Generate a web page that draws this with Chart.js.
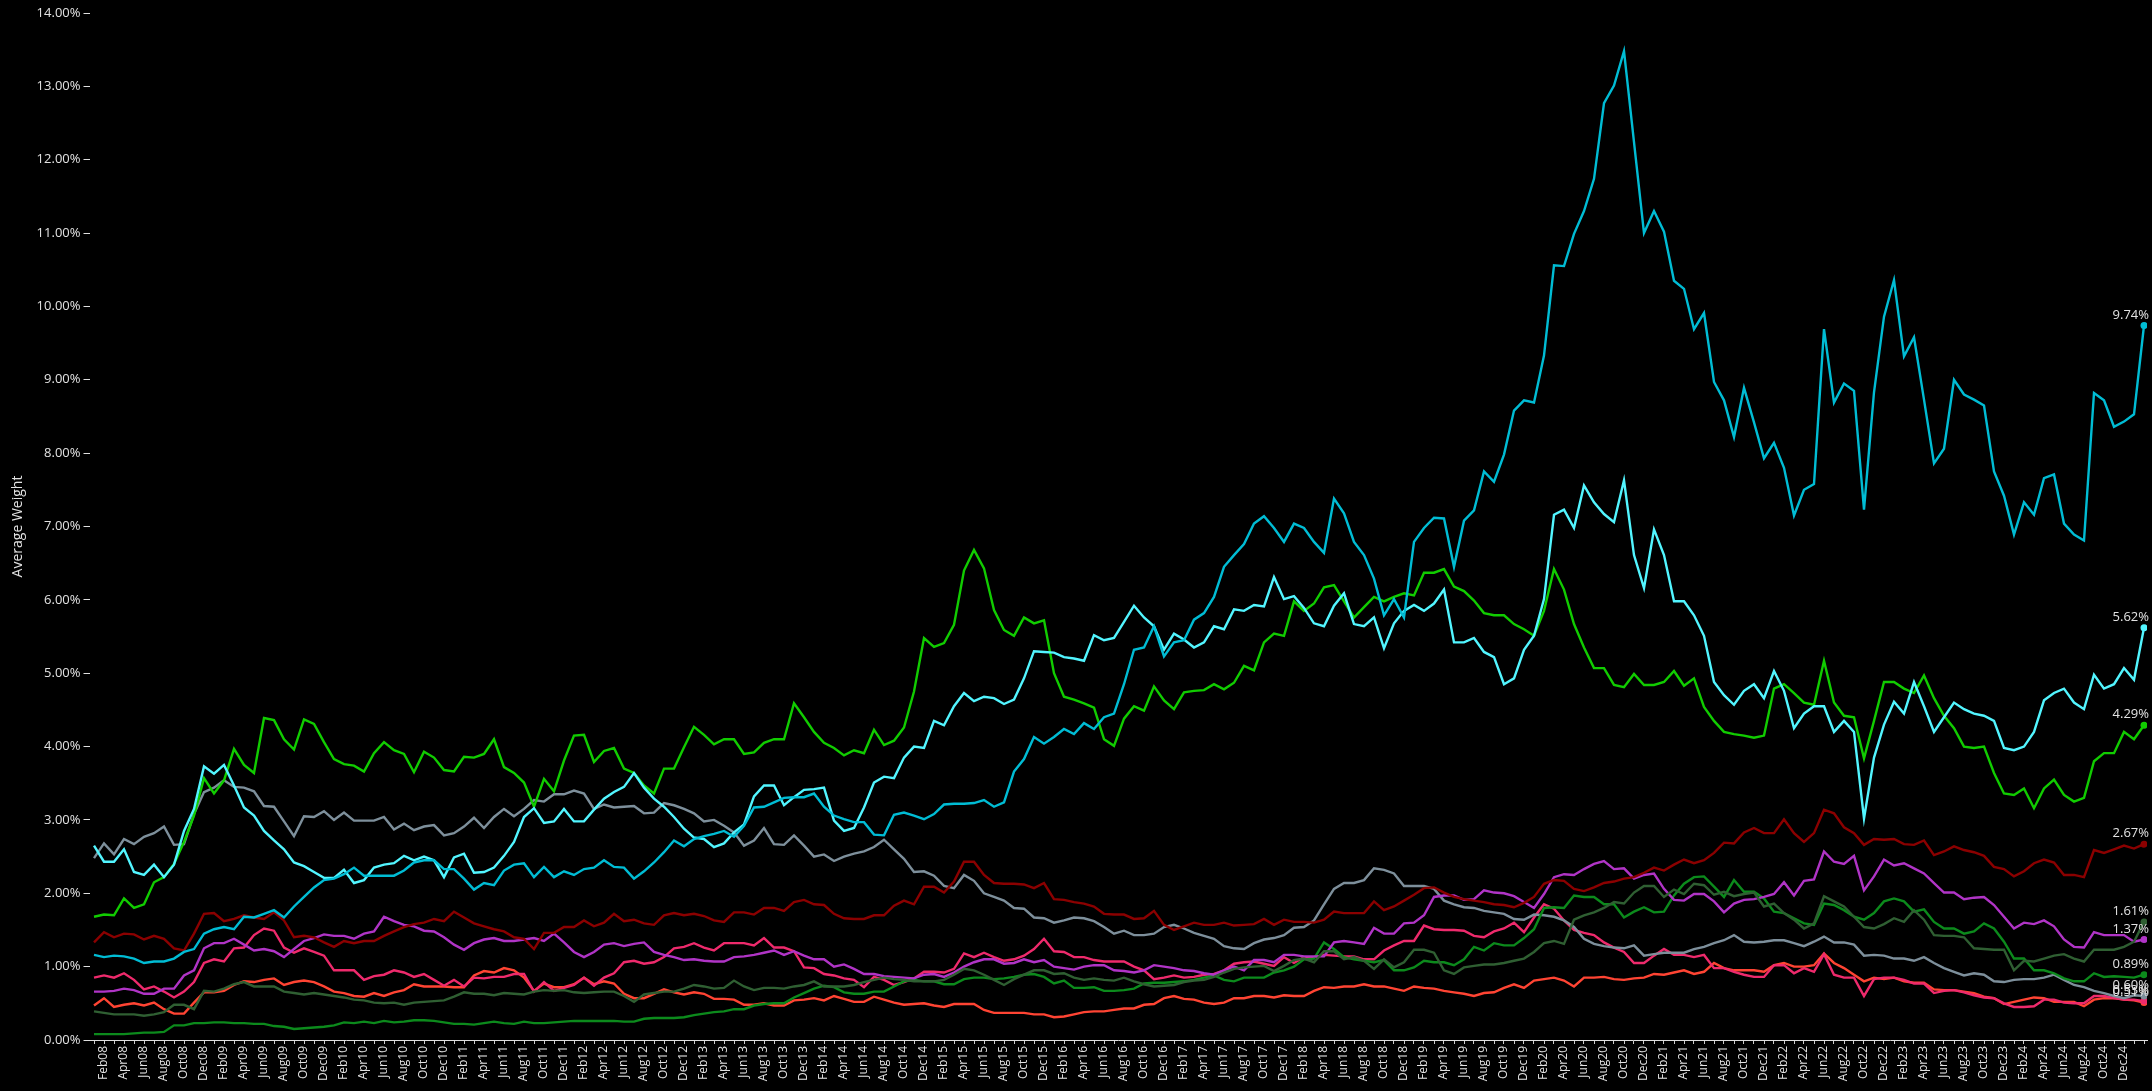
<!DOCTYPE html>
<html>
<head>
<meta charset="utf-8">
<title>Average Weight</title>
<script src="https://cdn.jsdelivr.net/npm/chart.js@4.4.1/dist/chart.umd.min.js"></script>
<style>
  html, body { margin: 0; padding: 0; background: #000; }
  #wrap { width: 2152px; height: 1091px; position: relative; }
</style>
</head>
<body>
<div id="wrap"><canvas id="chart"></canvas></div>
<script>
// month labels, Jan08 .. Feb25
const monthNames = ['Jan', 'Feb', 'Mar', 'Apr', 'May', 'Jun', 'Jul', 'Aug', 'Sep', 'Oct', 'Nov', 'Dec'];
const months = [];
for (let k = 0; k < 206; k++) {
  const yr = 8 + Math.floor(k / 12);
  months.push(monthNames[k % 12] + String(yr).padStart(2, '0'));
}

const yTicks = [0, 1, 2, 3, 4, 5, 6, 7, 8, 9, 10, 11, 12, 13, 14];

const darkCyan = [1.16,1.13,1.15,1.14,1.11,1.05,1.07,1.07,1.11,1.20,1.24,1.45,1.51,1.54,1.51,1.68,1.67,1.72,1.77,1.67,
  1.82,1.95,2.08,2.18,2.20,2.26,2.35,2.24,2.24,2.24,2.24,2.31,2.42,2.45,2.45,2.33,2.33,2.20,2.05,2.14,
  2.11,2.31,2.39,2.41,2.22,2.36,2.22,2.30,2.25,2.33,2.35,2.45,2.36,
  2.35,2.20,2.30,2.42,2.56,2.72,2.64,2.74,2.78,2.81,2.85,2.77,2.92,3.17,3.18,3.24,3.30,3.31,3.31,3.36,
  3.18,3.06,3.01,2.97,2.97,2.80,2.79,3.07,3.10,3.06,3.01,3.08,3.21,3.22,3.22,3.23,3.27,3.18,3.24,3.66,
  3.83,4.13,4.04,4.13,4.24,4.17,4.32,4.24,4.40,4.45,4.85,5.32,5.35,
  5.64,5.23,5.42,5.45,5.73,5.82,6.04,6.45,6.61,6.76,7.04,7.14,6.98,6.79,7.04,6.98,6.79,6.64,7.38,7.18,
  6.79,6.61,6.29,5.79,6.01,5.76,6.79,6.98,7.12,7.11,6.45,7.08,7.22,7.75,7.61,7.98,8.58,8.72,8.69,9.33,
  10.56,10.55,10.99,11.30,11.74,12.77,13.01,13.48,12.24,11.00,11.30,11.02,10.35,10.24,9.69,
  9.91,8.97,8.72,8.22,8.89,8.42,7.93,8.14,7.80,7.15,7.50,7.58,9.69,8.69,8.95,8.85,7.23,8.83,9.86,10.36,
  9.32,9.58,8.73,7.86,8.06,9.00,8.80,8.73,8.65,7.75,7.42,6.89,7.33,7.16,7.66,7.71,7.04,6.89,6.81,8.82,
  8.72,8.36,8.43,8.53,9.74];

const lightCyan = [2.65,2.43,2.43,2.60,2.29,2.25,2.39,2.22,2.39,2.85,3.15,3.73,3.63,3.75,3.47,3.17,3.06,2.85,2.72,2.60,
  2.42,2.37,2.29,2.21,2.21,2.32,2.14,2.18,2.35,2.39,2.41,2.51,2.45,2.50,2.45,2.22,2.49,2.54,2.28,2.29,
  2.35,2.51,2.70,3.04,3.16,2.96,2.98,3.15,2.98,2.98,3.14,3.29,3.38,
  3.45,3.64,3.44,3.29,3.18,3.04,2.88,2.76,2.74,2.63,2.68,2.83,2.94,3.32,3.47,3.47,3.20,3.31,3.41,3.42,
  3.44,2.99,2.85,2.89,3.17,3.51,3.59,3.57,3.85,4.00,3.98,4.35,4.29,4.55,4.73,4.62,4.68,4.66,4.58,4.64,
  4.93,5.30,5.29,5.28,5.22,5.20,5.17,5.52,5.45,5.48,5.70,5.92,5.76,
  5.64,5.32,5.54,5.46,5.35,5.42,5.64,5.60,5.87,5.85,5.93,5.91,6.31,6.01,6.05,5.89,5.68,5.64,5.92,6.09,
  5.67,5.64,5.76,5.34,5.68,5.85,5.93,5.85,5.95,6.14,5.42,5.42,5.48,5.29,5.22,4.85,4.93,5.32,5.51,6.01,
  7.16,7.23,6.98,7.56,7.33,7.17,7.06,7.63,6.61,6.16,6.96,6.61,5.98,5.98,5.79,
  5.51,4.88,4.70,4.57,4.76,4.85,4.66,5.03,4.76,4.25,4.45,4.55,4.55,4.20,4.35,4.20,3.02,3.85,4.30,4.61,
  4.45,4.88,4.55,4.20,4.40,4.60,4.51,4.45,4.42,4.35,3.98,3.95,4.00,4.20,4.63,4.73,4.79,4.60,4.51,4.98,
  4.79,4.85,5.07,4.91,5.62];

const brightGreen = [1.68,1.71,1.70,1.93,1.80,1.85,2.15,2.22,2.40,2.70,3.06,3.57,3.36,3.54,3.97,3.75,3.64,4.39,4.36,4.10,
  3.96,4.37,4.31,4.06,3.83,3.76,3.74,3.66,3.91,4.06,3.95,3.90,3.65,3.93,3.85,3.68,3.66,3.86,3.85,3.90,
  4.10,3.72,3.64,3.51,3.18,3.56,3.39,3.81,4.15,4.16,3.79,3.94,3.98,
  3.70,3.64,3.47,3.36,3.70,3.70,3.99,4.27,4.16,4.03,4.10,4.10,3.90,3.92,4.05,4.10,4.10,4.59,4.40,4.20,
  4.05,3.98,3.88,3.95,3.91,4.23,4.02,4.08,4.26,4.75,5.48,5.36,5.41,5.66,6.40,6.68,6.43,5.86,5.59,5.51,
  5.76,5.68,5.72,5.00,4.68,4.64,4.59,4.53,4.10,4.01,4.38,4.55,4.49,
  4.82,4.63,4.51,4.74,4.76,4.77,4.85,4.78,4.87,5.10,5.04,5.42,5.54,5.51,5.98,5.85,5.95,6.17,6.20,5.98,
  5.76,5.90,6.04,5.98,6.04,6.09,6.06,6.37,6.37,6.42,6.18,6.12,5.99,5.82,5.79,5.79,5.67,5.60,5.51,5.85,
  6.42,6.14,5.67,5.35,5.07,5.07,4.84,4.81,4.99,4.84,4.84,4.88,5.03,4.83,4.93,
  4.54,4.35,4.20,4.17,4.15,4.12,4.15,4.79,4.85,4.73,4.60,4.57,5.17,4.60,4.42,4.40,3.84,4.35,4.88,4.88,
  4.79,4.73,4.97,4.66,4.42,4.25,4.00,3.98,4.00,3.64,3.36,3.34,3.43,3.16,3.43,3.55,3.34,3.25,3.30,3.80,
  3.91,3.91,4.20,4.10,4.29];

const darkRed = [1.33,1.47,1.40,1.45,1.44,1.37,1.42,1.38,1.25,1.22,1.45,1.72,1.73,1.62,1.65,1.70,1.67,1.65,1.74,1.63,
  1.40,1.42,1.40,1.33,1.27,1.35,1.32,1.35,1.35,1.42,1.48,1.54,1.58,1.60,1.65,1.62,1.75,1.67,1.59,1.55,
  1.51,1.48,1.40,1.38,1.24,1.46,1.46,1.54,1.54,1.63,1.55,1.60,1.72,
  1.62,1.64,1.59,1.57,1.70,1.73,1.70,1.72,1.69,1.63,1.61,1.74,1.74,1.71,1.80,1.80,1.76,1.88,1.91,1.85,
  1.84,1.72,1.66,1.65,1.65,1.70,1.70,1.83,1.90,1.85,2.09,2.09,2.01,2.16,2.43,2.43,2.25,2.14,2.13,2.13,
  2.12,2.07,2.14,1.92,1.91,1.88,1.86,1.82,1.72,1.71,1.71,1.65,
  1.66,1.76,1.57,1.50,1.55,1.60,1.57,1.57,1.60,1.56,1.57,1.58,1.65,1.57,1.64,1.61,1.61,1.60,1.64,1.75,
  1.73,1.73,1.73,1.89,1.77,1.82,1.90,1.98,2.07,2.08,2.01,1.95,1.92,1.90,1.88,1.85,1.84,1.81,1.87,1.95,
  2.13,2.18,2.17,2.06,2.03,2.08,2.14,2.16,2.20,2.22,2.28,2.35,2.31,2.39,2.46,
  2.41,2.45,2.55,2.69,2.68,2.83,2.89,2.82,2.82,3.01,2.82,2.70,2.82,3.14,3.09,2.90,2.82,2.66,2.74,2.73,
  2.74,2.67,2.66,2.72,2.52,2.57,2.64,2.59,2.56,2.51,2.36,2.33,2.23,2.30,2.41,2.46,2.42,2.25,2.25,2.22,
  2.59,2.55,2.60,2.65,2.61,2.67];

const purple = [0.66,0.66,0.67,0.70,0.68,0.63,0.63,0.70,0.70,0.88,0.95,1.25,1.32,1.32,1.38,1.30,1.22,1.24,1.21,1.13,
  1.24,1.35,1.39,1.44,1.42,1.42,1.38,1.45,1.48,1.68,1.62,1.57,1.55,1.49,1.48,1.40,1.30,1.23,1.32,1.37,
  1.39,1.35,1.35,1.37,1.39,1.35,1.45,1.33,1.20,1.13,1.20,1.30,1.32,
  1.28,1.31,1.33,1.20,1.16,1.13,1.09,1.10,1.08,1.07,1.07,1.13,1.14,1.16,1.19,1.22,1.16,1.21,1.15,1.10,
  1.10,1.00,1.03,0.97,0.90,0.90,0.87,0.86,0.85,0.84,0.89,0.90,0.86,0.92,1.00,1.06,1.10,1.10,1.04,1.05,
  1.10,1.06,1.09,1.00,0.98,0.96,1.00,1.02,1.02,0.95,0.94,0.92,
  0.95,1.02,1.00,0.98,0.95,0.94,0.91,0.89,0.95,1.00,0.95,1.09,1.09,1.06,1.16,1.16,1.14,1.14,1.14,1.33,
  1.35,1.33,1.31,1.53,1.45,1.45,1.59,1.60,1.70,1.95,1.97,1.97,1.91,1.92,2.04,2.01,2.00,1.96,1.88,1.80,
  1.99,2.22,2.26,2.25,2.33,2.40,2.44,2.33,2.34,2.20,2.25,2.27,2.06,1.91,1.90,
  1.99,1.99,1.89,1.74,1.86,1.91,1.92,1.95,1.99,2.15,1.97,2.17,2.19,2.57,2.43,2.40,2.51,2.04,2.23,2.46,
  2.38,2.41,2.34,2.27,2.14,2.01,2.01,1.92,1.94,1.95,1.84,1.68,1.52,1.60,1.58,1.63,1.55,1.37,1.27,1.26,
  1.47,1.43,1.43,1.43,1.34,1.37];

const darkOlive = [0.39,0.37,0.35,0.35,0.35,0.33,0.35,0.38,0.48,0.48,0.42,0.67,0.66,0.70,0.76,0.79,0.73,0.73,0.73,0.66,
  0.64,0.62,0.64,0.62,0.60,0.58,0.55,0.54,0.51,0.50,0.51,0.48,0.51,0.52,0.53,0.54,0.59,0.65,0.63,0.63,
  0.61,0.64,0.63,0.62,0.66,0.68,0.67,0.68,0.65,0.64,0.65,0.66,0.66,
  0.60,0.52,0.62,0.64,0.66,0.66,0.70,0.75,0.73,0.70,0.71,0.81,0.73,0.68,0.71,0.71,0.70,0.73,0.75,0.80,
  0.73,0.73,0.73,0.75,0.79,0.82,0.85,0.83,0.82,0.80,0.80,0.80,0.82,0.89,0.97,0.95,0.89,0.82,0.75,0.83,
  0.89,0.95,0.95,0.90,0.91,0.85,0.82,0.84,0.82,0.81,0.85,0.80,
  0.76,0.73,0.74,0.75,0.79,0.81,0.82,0.86,0.92,0.97,0.99,1.00,1.01,0.94,1.01,1.09,1.11,1.06,1.21,1.21,
  1.10,1.13,1.08,0.97,1.10,0.99,1.06,1.23,1.23,1.19,0.95,0.90,0.99,1.01,1.03,1.03,1.05,1.08,1.11,1.20,
  1.32,1.35,1.31,1.64,1.70,1.74,1.80,1.88,1.86,2.01,2.10,2.10,1.95,2.05,1.99,
  2.13,2.11,1.98,2.02,1.96,1.99,2.01,1.82,1.86,1.73,1.64,1.52,1.59,1.96,1.89,1.82,1.68,1.54,1.52,1.58,
  1.66,1.61,1.77,1.64,1.43,1.42,1.42,1.40,1.25,1.24,1.23,1.23,0.95,1.08,1.07,1.11,1.15,1.17,1.11,1.07,
  1.23,1.23,1.23,1.27,1.34,1.61];

const midGreen = [0.08,0.08,0.08,0.08,0.09,0.10,0.10,0.11,0.20,0.20,0.23,0.23,0.24,0.24,0.23,0.23,0.22,0.22,0.19,0.18,
  0.15,0.16,0.17,0.18,0.20,0.24,0.23,0.25,0.23,0.26,0.24,0.25,0.27,0.27,0.26,0.24,0.22,0.22,0.21,0.23,
  0.25,0.23,0.22,0.25,0.23,0.23,0.24,0.25,0.26,0.26,0.26,0.26,0.26,
  0.25,0.25,0.29,0.30,0.30,0.30,0.31,0.34,0.36,0.38,0.39,0.42,0.42,0.47,0.49,0.50,0.50,0.58,0.64,0.70,
  0.74,0.72,0.65,0.63,0.63,0.66,0.66,0.73,0.80,0.82,0.80,0.80,0.76,0.76,0.83,0.85,0.85,0.83,0.84,0.86,
  0.89,0.90,0.86,0.77,0.81,0.71,0.71,0.72,0.67,0.67,0.68,0.70,
  0.77,0.78,0.78,0.79,0.80,0.82,0.85,0.88,0.82,0.80,0.85,0.85,0.85,0.92,0.95,1.00,1.10,1.11,1.33,1.24,
  1.13,1.10,1.08,1.06,1.09,0.95,0.95,0.99,1.08,1.06,1.06,1.02,1.10,1.27,1.22,1.32,1.29,1.29,1.39,1.51,
  1.80,1.81,1.80,1.97,1.95,1.95,1.85,1.85,1.67,1.75,1.81,1.74,1.75,1.97,2.13,
  2.22,2.23,2.09,1.95,2.18,2.02,2.02,1.93,1.75,1.73,1.66,1.59,1.57,1.86,1.84,1.77,1.68,1.64,1.73,1.89,
  1.93,1.89,1.75,1.78,1.61,1.52,1.52,1.45,1.48,1.59,1.52,1.34,1.11,1.11,0.95,0.95,0.91,0.84,0.80,0.80,
  0.91,0.86,0.87,0.86,0.85,0.89];

const slateGray = [2.48,2.68,2.53,2.74,2.67,2.77,2.82,2.91,2.66,2.67,3.08,3.38,3.44,3.54,3.45,3.44,3.39,3.19,3.18,2.98,
  2.78,3.05,3.04,3.12,3.00,3.10,2.99,2.99,2.99,3.04,2.87,2.95,2.86,2.91,2.93,2.79,2.82,2.91,3.03,2.89,
  3.04,3.15,3.05,3.15,3.27,3.25,3.35,3.35,3.40,3.36,3.15,3.21,3.17,
  3.18,3.19,3.09,3.10,3.23,3.20,3.15,3.09,2.98,3.00,2.92,2.83,2.65,2.72,2.89,2.67,2.66,2.79,2.65,2.50,
  2.53,2.44,2.50,2.54,2.57,2.63,2.73,2.60,2.47,2.29,2.30,2.24,2.10,2.07,2.25,2.17,2.00,1.95,1.90,1.80,
  1.79,1.67,1.66,1.60,1.63,1.67,1.66,1.62,1.54,1.45,1.49,1.43,
  1.43,1.45,1.54,1.57,1.52,1.46,1.42,1.38,1.28,1.25,1.24,1.32,1.37,1.39,1.43,1.53,1.54,1.63,1.85,2.06,
  2.14,2.14,2.18,2.34,2.32,2.27,2.10,2.10,2.10,2.06,1.90,1.85,1.81,1.80,1.76,1.74,1.72,1.65,1.64,1.71,
  1.70,1.68,1.63,1.54,1.38,1.31,1.28,1.26,1.25,1.29,1.15,1.17,1.19,1.19,1.19,
  1.24,1.27,1.32,1.36,1.43,1.34,1.33,1.34,1.36,1.36,1.32,1.28,1.34,1.41,1.33,1.33,1.30,1.15,1.16,1.15,
  1.11,1.11,1.08,1.13,1.05,0.98,0.93,0.88,0.91,0.89,0.80,0.79,0.82,0.83,0.83,0.85,0.89,0.82,0.75,0.72,
  0.67,0.64,0.60,0.57,0.61,0.60];

const pink = [0.85,0.88,0.85,0.91,0.82,0.69,0.73,0.66,0.58,0.66,0.79,1.05,1.10,1.07,1.25,1.26,1.43,1.52,1.49,1.26,
  1.19,1.25,1.20,1.15,0.95,0.95,0.95,0.82,0.87,0.89,0.95,0.92,0.86,0.90,0.82,0.74,0.82,0.73,0.85,0.84,
  0.86,0.86,0.90,0.90,0.66,0.79,0.67,0.71,0.75,0.85,0.74,0.85,0.91,
  1.06,1.08,1.04,1.06,1.13,1.25,1.27,1.32,1.26,1.22,1.32,1.32,1.32,1.29,1.39,1.26,1.26,1.21,0.99,0.98,
  0.90,0.88,0.84,0.82,0.72,0.86,0.82,0.75,0.79,0.84,0.93,0.93,0.92,0.97,1.18,1.13,1.19,1.13,1.08,1.10,
  1.15,1.24,1.38,1.21,1.20,1.13,1.13,1.09,1.07,1.07,1.07,1.00,
  0.95,0.83,0.85,0.88,0.85,0.86,0.89,0.90,0.95,1.04,1.06,1.07,1.04,1.01,1.13,1.05,1.13,1.13,1.16,1.15,
  1.14,1.14,1.10,1.10,1.22,1.29,1.35,1.35,1.56,1.51,1.50,1.50,1.49,1.42,1.40,1.48,1.52,1.60,1.47,1.67,
  1.85,1.79,1.63,1.50,1.46,1.43,1.33,1.26,1.20,1.05,1.05,1.15,1.24,1.16,1.16,
  1.13,1.16,0.98,0.98,0.93,0.89,0.86,0.86,1.02,1.02,0.91,0.98,0.93,1.17,0.89,0.85,0.85,0.60,0.83,0.85,
  0.85,0.82,0.77,0.77,0.64,0.67,0.68,0.65,0.61,0.58,0.57,0.50,0.45,0.45,0.46,0.55,0.55,0.51,0.50,0.50,
  0.60,0.60,0.57,0.55,0.55,0.53];

const tomato = [0.47,0.57,0.45,0.48,0.50,0.47,0.51,0.42,0.36,0.36,0.51,0.65,0.65,0.67,0.75,0.80,0.79,0.82,0.84,0.75,
  0.79,0.81,0.79,0.73,0.66,0.64,0.60,0.59,0.64,0.60,0.65,0.68,0.76,0.73,0.73,0.73,0.72,0.72,0.88,0.94,
  0.92,0.98,0.95,0.85,0.67,0.77,0.72,0.72,0.76,0.85,0.76,0.80,0.77,
  0.63,0.57,0.57,0.63,0.69,0.65,0.62,0.65,0.63,0.56,0.56,0.55,0.48,0.48,0.50,0.47,0.47,0.54,0.55,0.57,
  0.54,0.60,0.56,0.52,0.52,0.59,0.55,0.51,0.48,0.49,0.50,0.47,0.45,0.49,0.49,0.49,0.41,0.37,0.37,0.37,
  0.37,0.35,0.35,0.31,0.32,0.35,0.38,0.39,0.39,0.41,0.43,0.43,
  0.48,0.49,0.57,0.60,0.56,0.55,0.51,0.49,0.51,0.57,0.57,0.60,0.60,0.58,0.61,0.60,0.60,0.67,0.72,0.71,
  0.73,0.73,0.76,0.73,0.73,0.70,0.67,0.73,0.71,0.70,0.67,0.65,0.63,0.60,0.64,0.65,0.71,0.76,0.71,0.81,
  0.83,0.85,0.81,0.73,0.85,0.85,0.86,0.83,0.82,0.84,0.85,0.90,0.89,0.92,0.95,
  0.90,0.93,1.05,0.98,0.95,0.95,0.95,0.93,1.02,1.05,1.00,1.00,1.02,1.18,1.05,0.98,0.89,0.80,0.85,0.83,
  0.85,0.80,0.78,0.78,0.69,0.68,0.68,0.66,0.64,0.59,0.57,0.49,0.52,0.55,0.58,0.57,0.52,0.52,0.52,0.46,
  0.55,0.57,0.57,0.55,0.54,0.51];

const seriesList = [
  { name: 'A', values: darkCyan, color: '#00BCD4' },
  { name: 'B', values: lightCyan, color: '#52F5FF' },
  { name: 'C', values: brightGreen, color: '#11CC00' },
  { name: 'D', values: darkRed, color: '#8B0000' },
  { name: 'E', values: darkOlive, color: '#2F5F32' },
  { name: 'F', values: purple, color: '#B034C6' },
  { name: 'G', values: midGreen, color: '#0C8A1C' },
  { name: 'H', values: slateGray, color: '#7D8F9B' },
  { name: 'I', values: pink, color: '#EE2A6C' },
  { name: 'J', values: tomato, color: '#FF4433' }
];

const lastIndex = months.length - 1;
const textColor = '#e2e2e2';

Chart.defaults.font.family = '"Open Sans", sans-serif';

// value label next to the last point of every line
const endLabels = {
  id: 'endLabels',
  afterDatasetsDraw(chart) {
    const ctx = chart.ctx;
    ctx.save();
    ctx.font = '13px "Open Sans"';
    ctx.fillStyle = textColor;
    ctx.textAlign = 'right';
    ctx.textBaseline = 'alphabetic';
    chart.data.datasets.forEach((ds, i) => {
      const meta = chart.getDatasetMeta(i);
      const pt = meta.data[meta.data.length - 1];
      const v = ds.data[ds.data.length - 1].y;
      ctx.fillText(v.toFixed(2) + '%', pt.x + 5, pt.y - 7);
    });
    ctx.restore();
  }
};

const datasets = seriesList.map(s => ({
  label: s.name,
  data: s.values.map((v, i) => ({ x: i, y: v })),
  borderColor: s.color,
  backgroundColor: s.color,
  borderWidth: 2.4,
  tension: 0,
  pointRadius: (c) => c.dataIndex === lastIndex ? 3.5 : 0,
  pointHoverRadius: 0,
  pointBorderWidth: 0,
  pointBackgroundColor: s.color
}));

new Chart(document.getElementById('chart'), {
  type: 'line',
  data: { datasets },
  options: {
    responsive: true,
    maintainAspectRatio: false,
    animation: false,
    devicePixelRatio: 1,
    layout: { padding: { top: 13, right: 5, left: 0, bottom: 0 } },
    plugins: {
      legend: { display: false },
      tooltip: { enabled: false }
    },
    scales: {
      x: {
        type: 'linear',
        min: -0.45,
        max: 205.3,
        afterBuildTicks: (scale) => { scale.ticks = months.map((m, i) => ({ value: i })); },
        afterFit: (scale) => {
          scale.height = 51;
          scale.paddingLeft = 0;
          scale.paddingRight = 0;
        },
        grid: { drawOnChartArea: false, drawTicks: true, tickLength: 4, color: '#cfcfcf', lineWidth: 1 },
        border: { display: true, color: '#e0e0e0', width: 1, dash: [4, 3] },
        ticks: {
          autoSkip: false,
          maxRotation: 90,
          minRotation: 90,
          padding: 2,
          color: textColor,
          font: { size: 12 },
          // every other month, Feb08 .. Dec24
          callback: (v) => (v % 2 === 1 && v < lastIndex) ? months[v] : ''
        }
      },
      y: {
        min: 0,
        max: 14,
        afterBuildTicks: (scale) => { scale.ticks = yTicks.map(v => ({ value: v })); },
        afterFit: (scale) => { scale.width = 89.5; },
        grid: { drawOnChartArea: false, drawTicks: true, tickLength: 6, color: '#e0e0e0' },
        border: { display: false },
        ticks: {
          padding: 3,
          color: textColor,
          font: { size: 13 },
          callback: (v) => v.toFixed(2) + '%'
        },
        title: {
          display: true,
          text: 'Average Weight',
          color: textColor,
          font: { size: 14 },
          padding: { top: 10, bottom: 0 }
        }
      }
    }
  },
  plugins: [endLabels]
});
</script>
</body>
</html>
